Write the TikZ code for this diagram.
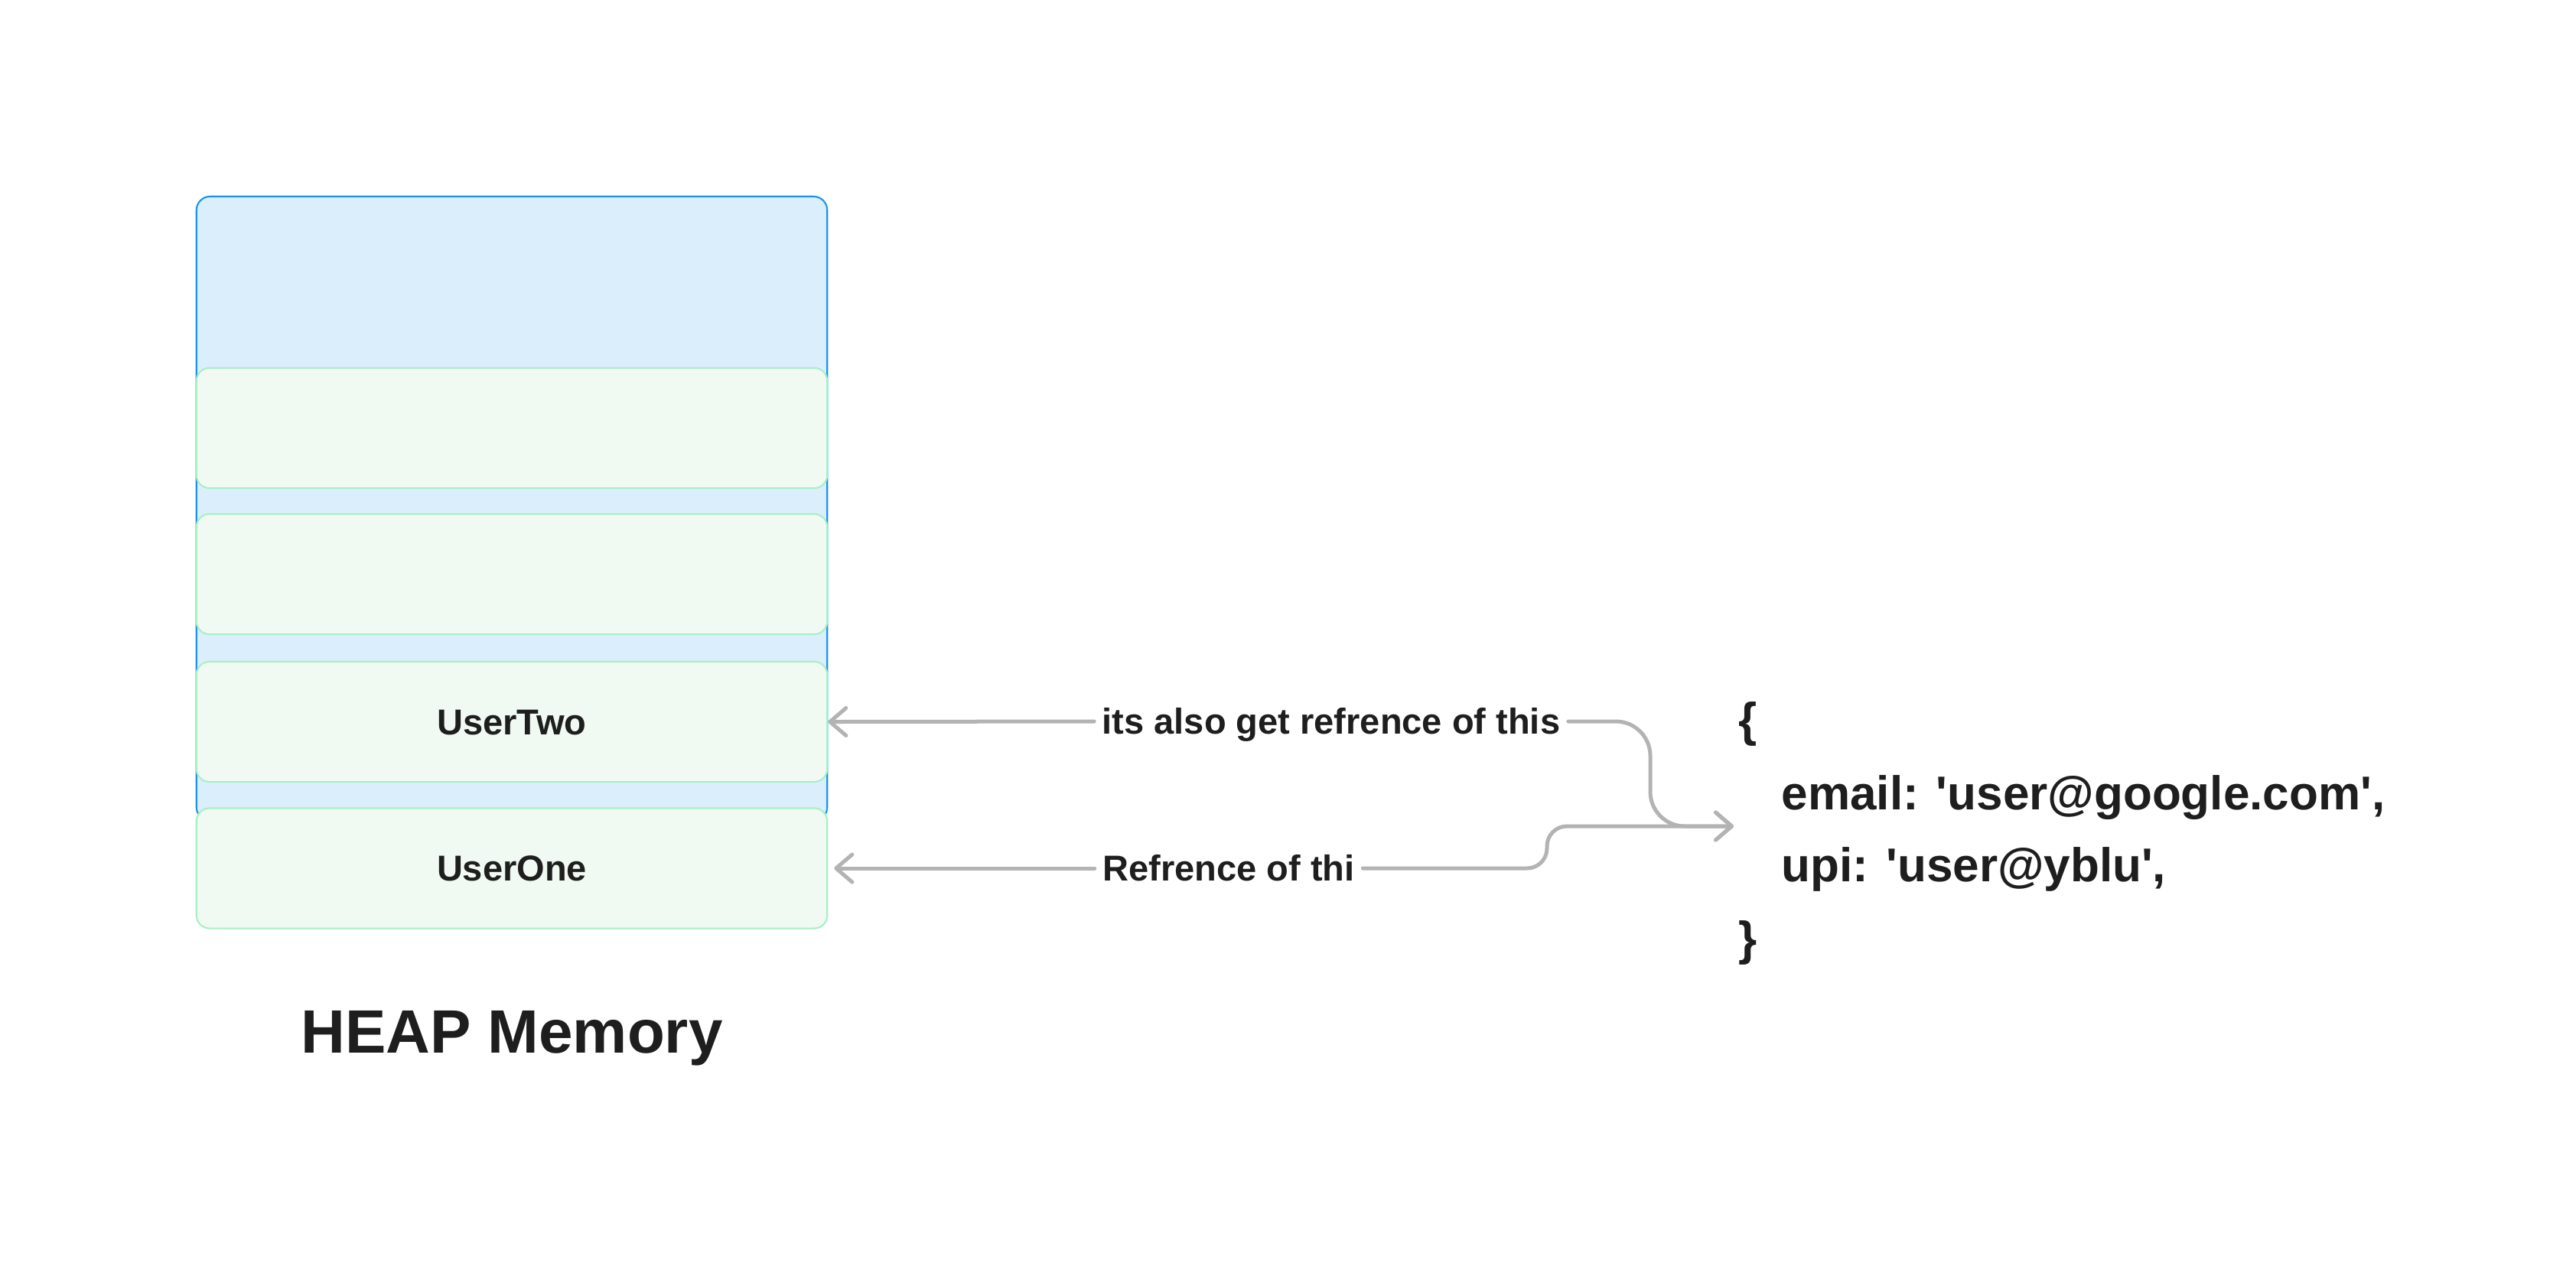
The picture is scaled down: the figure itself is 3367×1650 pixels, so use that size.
\documentclass[tikz,border=0pt]{standalone}
\usepackage{fontspec}
\setmainfont{Liberation Sans}
\usetikzlibrary{arrows.meta}
\definecolor{heapfill}{HTML}{DBEEFC}
\definecolor{heapline}{HTML}{1A94F0}
\definecolor{slotfill}{HTML}{F0FAF3}
\definecolor{slotline}{HTML}{A9EFC5}
\definecolor{linegray}{HTML}{B3B3B3}
\definecolor{ink}{HTML}{1E1E1E}
\tikzset{
  barb/.tip={Straight Barb[length=0.21cm, width=0.36cm, round]},
  heapbox/.style={draw=heapline, fill=heapfill, line width=0.6pt, rounded corners=0.18cm,
    minimum width=8.24cm, minimum height=8.16cm, inner sep=0pt},
  slotbox/.style={draw=slotline, fill=slotfill, line width=0.6pt, rounded corners=0.17cm,
    minimum width=8.24cm, minimum height=1.57cm, inner sep=0pt, text=ink,
    font=\fontsize{13.37pt}{16pt}\selectfont\bfseries, text height=0.337cm, text depth=0pt},
  lab/.style={text=ink, font=\fontsize{13.37pt}{16pt}\selectfont\bfseries,
    text height=0.337cm, text depth=0pt, inner xsep=0.1cm, inner ysep=0pt},
  codeline/.style={text=ink, font=\fontsize{17.64pt}{20pt}\selectfont\bfseries,
    text height=0.44cm, text depth=0pt, inner sep=0pt, anchor=west},
  title/.style={text=ink, font=\fontsize{22.76pt}{26pt}\selectfont\bfseries,
    text height=0.573cm, text depth=0pt, inner sep=0pt},
  conn/.style={draw=linegray, line width=0.05cm, line cap=round, line join=round}
}
\begin{document}
\begin{tikzpicture}[x=0.01cm, y=-0.01cm]
\useasboundingbox (0,0) rectangle (3367,1650);
\node[heapbox] (heap) at (669,665) {};
\node[slotbox] (s1) at (669,559.5) {};
\node[slotbox] (s2) at (669,750.5) {};
\node[slotbox] (u2) at (669,943.5) {UserTwo};
\node[slotbox] (u1) at (669,1135) {UserOne};
\node[title] (heaptitle) at (669,1348) {HEAP Memory};

\node[lab] (lab1) at (1740,943) {its also get refrence of this};
\node[lab] (lab2) at (1606,1135) {Refrence of thi};

\node[codeline] (ob1) at (2272,940) {\{};
\node[codeline] (ob2) at (2328,1036) {email: \textquotesingle user@google.com\textquotesingle ,};
\node[codeline] (ob3) at (2328,1130) {upi: \textquotesingle user@yblu\textquotesingle ,};
\node[codeline] (ob4) at (2272,1226) {\}};

\coordinate (objin) at (2266,1080);
\coordinate (bendA) at (2157,0);
\coordinate (bendB) at (2022,0);

\draw[conn, barb-] (u2.east) -- (lab1.west);
\draw[conn, rounded corners=0.45cm, -barb] (lab1.east) -- (bendA |- lab1.east) -- (bendA |- objin) -- (objin);
\draw[conn, barb-, shorten <=0.08cm] (u1.east) -- (lab2.west);
\draw[conn, rounded corners=0.26cm, -barb] (lab2.east) -- (bendB |- lab2.east) -- (bendB |- objin) -- (objin);
\end{tikzpicture}
\end{document}
